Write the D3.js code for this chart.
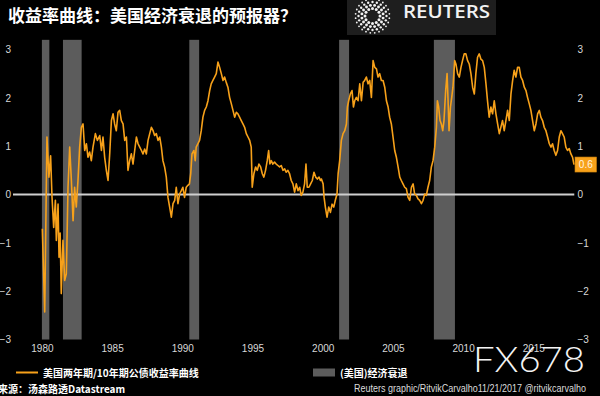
<!DOCTYPE html>
<html>
<head>
<meta charset="utf-8">
<script src="https://cdn.jsdelivr.net/npm/d3@7"></script>
<style>
html,body{margin:0;padding:0;background:#000;}
svg{display:block;}
</style>
</head>
<body>
<svg id="chart" width="600" height="396"></svg>
<script>
// ---------- DATA ----------
const title = "收益率曲线：美国经济衰退的预报器？";
const seriesName = "美国两年期/10年期公债收益率曲线";
const recessionName = "(美国)经济衰退";
const sourceText = "来源：汤森路透Datastream";
const creditText = "Reuters graphic/RitvikCarvalho11/21/2017  @ritvikcarvalho";
const lastLabel = "0.6";

const yTicks = [-3, -2, -1, 0, 1, 2, 3];
const xTicks = [1980, 1985, 1990, 1995, 2000, 2005, 2010, 2015];

// recession periods (decimal years)
const recStart = [1980.0, 1981.5, 1990.5, 2001.17, 2007.92];
const recEnd   = [1980.53, 1982.83, 1991.2, 2001.88, 2009.42];

// 2y/10y spread, percentage points (decimal years)
const years = [
1980.03,1980.20,1980.36,1980.50,1980.62,1980.72,1980.84,1980.96,1981.03,1981.15,1981.22,1981.30,1981.38,1981.50,1981.62,1981.74,1981.86,1981.98,
1982.10,1982.22,1982.33,1982.45,1982.57,1982.69,1982.81,1982.93,1983.05,1983.17,1983.28,1983.40,1983.52,1983.64,1983.81,1983.95,
1984.12,1984.24,1984.35,1984.47,1984.59,1984.71,1984.83,1984.95,1985.07,1985.18,1985.30,1985.42,1985.54,1985.66,1985.78,1985.90,
1986.02,1986.13,1986.25,1986.37,1986.49,1986.61,1986.73,1986.85,1986.97,1987.09,1987.20,1987.32,1987.44,1987.56,1987.68,1987.80,1987.92,
1988.03,1988.15,1988.27,1988.39,1988.51,1988.62,1988.74,1988.86,1988.98,1989.10,1989.22,1989.34,1989.46,1989.57,1989.69,1989.81,1989.93,
1990.04,1990.16,1990.28,1990.40,1990.51,1990.60,1990.69,1990.83,1990.92,1990.99,1991.11,1991.23,1991.35,1991.47,1991.59,1991.71,1991.83,1991.95,
1992.06,1992.18,1992.30,1992.42,1992.54,1992.66,1992.78,1992.90,1993.01,1993.13,1993.25,1993.37,1993.49,1993.61,1993.73,1993.85,1993.96,
1994.08,1994.20,1994.32,1994.44,1994.56,1994.68,1994.80,1994.91,1994.98,1995.10,1995.22,1995.34,1995.46,1995.58,1995.70,1995.81,1995.93,
1996.05,1996.15,1996.24,1996.34,1996.45,1996.57,1996.69,1996.81,1996.93,1997.05,1997.17,1997.29,1997.40,1997.52,1997.64,1997.76,1997.88,
1998.00,1998.12,1998.24,1998.36,1998.47,1998.59,1998.71,1998.81,1998.90,1999.02,1999.14,1999.26,1999.38,1999.50,1999.62,1999.74,1999.84,1999.91,
2000.03,2000.10,2000.19,2000.31,2000.43,2000.55,2000.67,2000.79,2000.90,2001.02,2001.10,2001.21,2001.33,2001.45,2001.57,2001.69,2001.76,2001.85,2001.97,
2002.09,2002.19,2002.28,2002.40,2002.52,2002.64,2002.76,2002.88,2002.99,2003.11,2003.23,2003.35,2003.47,2003.59,2003.71,2003.83,2003.94,
2004.06,2004.18,2004.30,2004.42,2004.54,2004.66,2004.77,2004.89,2005.01,2005.13,2005.25,2005.37,2005.49,2005.60,2005.72,2005.84,2005.96,
2006.08,2006.20,2006.32,2006.44,2006.55,2006.67,2006.79,2006.91,2007.03,2007.15,2007.27,2007.38,2007.50,2007.62,2007.74,2007.86,2007.98,
2008.10,2008.17,2008.26,2008.36,2008.45,2008.55,2008.64,2008.76,2008.86,2008.93,2009.00,2009.10,2009.19,2009.28,2009.40,2009.49,2009.61,2009.73,2009.85,2009.96,
2010.08,2010.20,2010.32,2010.44,2010.56,2010.68,2010.80,2010.91,2011.03,2011.15,2011.27,2011.39,2011.51,2011.63,2011.74,2011.86,2011.98,
2012.10,2012.22,2012.34,2012.46,2012.58,2012.69,2012.81,2012.93,2013.05,2013.17,2013.29,2013.41,2013.53,2013.64,2013.76,2013.88,2014.00,
2014.12,2014.24,2014.36,2014.48,2014.59,2014.71,2014.83,2014.95,2015.07,2015.19,2015.31,2015.43,2015.54,2015.66,2015.78,2015.90,
2016.02,2016.14,2016.26,2016.37,2016.49,2016.61,2016.73,2016.85,2016.97,2017.08,2017.20,2017.32,2017.44,2017.56,2017.68,2017.80,2017.90
];
const spread = [
-0.71,-2.43,1.19,0.36,0.80,-0.05,-0.68,-0.12,-0.95,-0.20,-1.30,-0.80,-2.05,-0.95,-1.78,-1.64,0.15,0.98,
0.29,-0.54,0.15,-0.26,0.29,0.98,1.39,1.46,0.91,1.05,0.77,0.88,0.70,0.98,1.26,1.12,
1.22,0.91,1.19,0.77,0.50,0.29,0.84,1.53,1.67,1.46,1.32,1.70,1.74,1.53,1.46,1.12,
1.19,0.50,0.70,0.84,0.63,0.91,1.19,1.05,0.98,0.91,0.84,0.94,0.84,1.12,1.26,1.39,1.32,
1.22,1.26,1.12,1.19,0.98,0.70,0.57,0.36,-0.06,-0.26,-0.47,-0.19,-0.12,0.15,-0.19,0.01,0.08,
0.15,-0.06,0.15,0.19,0.22,0.43,0.84,0.91,0.70,0.98,1.05,1.12,1.32,1.60,1.74,1.81,1.94,2.15,
2.29,2.36,2.43,2.50,2.74,2.63,2.50,2.36,2.43,2.32,2.22,2.01,1.88,1.74,1.60,1.70,1.67,
1.60,1.53,1.46,1.39,1.26,1.19,1.12,0.98,0.15,0.43,0.57,0.50,0.63,0.57,0.43,0.36,0.50,
0.70,0.91,0.63,0.70,0.63,0.67,0.63,0.60,0.57,0.60,0.50,0.53,0.46,0.50,0.43,0.29,0.22,
0.05,0.22,0.08,0.15,-0.02,0.05,0.22,0.63,0.15,0.15,0.22,0.29,0.46,0.36,0.32,0.36,0.29,0.32,
0.22,-0.06,-0.26,-0.47,-0.26,-0.37,-0.20,-0.26,-0.12,0.01,0.43,0.70,1.12,1.26,1.32,1.46,1.81,1.94,2.08,
2.15,1.81,1.94,2.01,1.94,2.29,1.94,2.32,2.36,2.43,2.29,2.36,2.01,2.77,2.63,2.60,2.43,
2.50,2.36,2.36,2.22,1.94,1.81,1.60,1.46,1.19,0.91,0.77,0.57,0.36,0.29,0.22,0.15,0.12,
-0.06,-0.12,0.15,0.22,0.01,-0.02,-0.09,-0.12,-0.19,-0.12,0.01,-0.02,0.15,0.29,0.57,0.70,0.98,
1.39,1.94,1.81,1.53,1.46,1.32,1.53,2.15,2.50,1.94,1.32,1.81,2.01,2.22,2.77,2.70,2.50,2.43,2.63,2.77,
2.91,2.91,2.77,2.70,2.50,2.22,2.08,2.50,2.84,2.91,2.80,2.77,2.63,2.29,1.94,1.60,1.81,
1.67,1.94,1.67,1.46,1.26,1.39,1.53,1.32,1.53,1.74,1.53,2.08,2.36,2.57,2.43,2.63,2.63,
2.43,2.36,2.22,2.15,2.01,1.88,1.74,1.53,1.32,1.46,1.67,1.74,1.60,1.53,1.39,1.32,
1.19,1.05,0.98,1.05,0.91,0.81,0.91,1.19,1.32,1.26,1.19,0.98,0.91,0.95,0.84,0.77,0.62
];

// ---------- CHART ----------
const svg = d3.select("#chart");
const W = 600, H = 396;
svg.append("rect").attr("width", W).attr("height", H).attr("fill", "#000");

const x = d3.scaleLinear().domain([1980, 2018]).range([41.9, 575.4]);
const y = d3.scaleLinear().domain([-3, 3]).range([339.5, 49.5]);

const orange = "#f7a11a";
const grey = "#5c5c5c";
const tickCol = "#d8d8d8";
const axisFont = "'Liberation Sans', Arial, sans-serif";
const cjk = "'Noto Sans CJK SC', 'Noto Sans', sans-serif";

// recession bars
svg.append("g").selectAll("rect")
  .data(recStart.map((s, i) => ({s, e: recEnd[i]})))
  .join("rect")
  .attr("x", d => x(d.s))
  .attr("width", d => x(d.e) - x(d.s))
  .attr("y", y(3.2))
  .attr("height", y(-3) - y(3.2))
  .attr("fill", grey);

// zero line
svg.append("line")
  .attr("x1", 13).attr("x2", x(2017.92))
  .attr("y1", y(0)).attr("y2", y(0))
  .attr("stroke", "#cfcfcf").attr("stroke-width", 2);

// left axis
const leftAxis = d3.axisLeft(y).tickValues(yTicks).tickSize(0).tickPadding(0).tickFormat(d3.format("d"));
const gl = svg.append("g").attr("transform", "translate(11,0)").call(leftAxis);
gl.select(".domain").remove();
gl.selectAll("text").attr("fill", tickCol).attr("font-size", 10).attr("font-family", axisFont);

// right axis
const rightAxis = d3.axisRight(y).tickValues(yTicks).tickSize(0).tickPadding(0).tickFormat(d3.format("d"));
const gr = svg.append("g").attr("transform", "translate(577.5,0)").call(rightAxis);
gr.select(".domain").remove();
gr.selectAll("text").attr("fill", tickCol).attr("font-size", 10).attr("font-family", axisFont);

// bottom axis
const bottomAxis = d3.axisBottom(x).tickValues(xTicks).tickSize(0).tickPadding(0).tickFormat(d3.format("d"));
const gb = svg.append("g").attr("transform", "translate(0,345)").call(bottomAxis);
gb.select(".domain").remove();
gb.selectAll("text").attr("fill", tickCol).attr("font-size", 10).attr("font-family", axisFont);

// series line
const pts = years.map((yr, i) => [yr, spread[i]]);
svg.append("path")
  .datum(pts)
  .attr("fill", "none")
  .attr("stroke", orange)
  .attr("stroke-width", 1.6)
  .attr("stroke-linejoin", "round")
  .attr("d", d3.line().x(d => x(d[0])).y(d => y(d[1])));

// last value label
const lastY = y(spread[spread.length - 1]);
svg.append("rect")
  .attr("x", 575).attr("y", lastY - 7.5).attr("width", 21.5).attr("height", 15)
  .attr("fill", orange).attr("stroke", "#c97f0a").attr("stroke-width", 0.6);
svg.append("text")
  .attr("x", 585.8).attr("y", lastY + 3.6)
  .attr("text-anchor", "middle")
  .attr("fill", "#fff4e0").attr("font-size", 10).attr("font-family", axisFont)
  .text(lastLabel);

// title
svg.append("text")
  .attr("x", 8).attr("y", 22)
  .attr("fill", "#fff").attr("font-size", 17).attr("font-weight", "bold")
  .attr("font-family", cjk)
  .text(title);

// Reuters logo
const logo = svg.append("g");
logo.append("rect").attr("x", 347).attr("y", 0).attr("width", 149).attr("height", 35).attr("fill", "#1e1e1e");
const rings = [
  {r: 7.5, n: 12, s: 1.5},
  {r: 10.8, n: 16, s: 1.45},
  {r: 14.0, n: 20, s: 1.2},
  {r: 17.0, n: 24, s: 0.9}
];
rings.forEach((rg, k) => {
  for (let i = 0; i < rg.n; i++) {
    const a = (i + (k % 2) * 0.5) / rg.n * 2 * Math.PI;
    logo.append("circle")
      .attr("cx", 372.5 + rg.r * Math.cos(a))
      .attr("cy", 16 + rg.r * Math.sin(a))
      .attr("r", rg.s)
      .attr("fill", "#f2f2f2");
  }
});
logo.append("text")
  .attr("x", 403).attr("y", 17.5)
  .attr("fill", "#f2f2f2").attr("font-size", 18.5).attr("font-weight", 600)
  .attr("font-family", "'Open Sans', 'Liberation Sans', sans-serif")
  .attr("textLength", 87).attr("lengthAdjust", "spacingAndGlyphs")
  .text("REUTERS");

// legend
svg.append("line").attr("x1", 16).attr("x2", 38).attr("y1", 372.5).attr("y2", 372.5)
  .attr("stroke", orange).attr("stroke-width", 2);
svg.append("text").attr("x", 43).attr("y", 376.5)
  .attr("fill", "#fff").attr("font-size", 10).attr("font-weight", "bold").attr("font-family", cjk)
  .text(seriesName);
svg.append("rect").attr("x", 313).attr("y", 368.5).attr("width", 22).attr("height", 8).attr("fill", grey);
svg.append("text").attr("x", 340).attr("y", 376.5)
  .attr("fill", "#fff").attr("font-size", 10).attr("font-weight", "bold").attr("font-family", cjk)
  .text(recessionName);

// footer
svg.append("text").attr("x", -2).attr("y", 393)
  .attr("fill", "#fff").attr("font-size", 10).attr("font-weight", "bold").attr("font-family", cjk)
  .text(sourceText);
svg.append("text").attr("x", 354).attr("y", 392)
  .attr("fill", "#dcdcdc").attr("font-size", 10).attr("font-family", axisFont)
  .attr("textLength", 232).attr("lengthAdjust", "spacingAndGlyphs")
  .text(creditText);

// watermark
svg.append("text").attr("x", 473).attr("y", 372)
  .attr("fill", "#f4f4f4").attr("font-size", 36).attr("font-weight", 300)
  .attr("font-family", "'Lato', 'Open Sans', sans-serif")
  .attr("textLength", 112).attr("lengthAdjust", "spacingAndGlyphs")
  .text("FX678");
</script>
</body>
</html>
